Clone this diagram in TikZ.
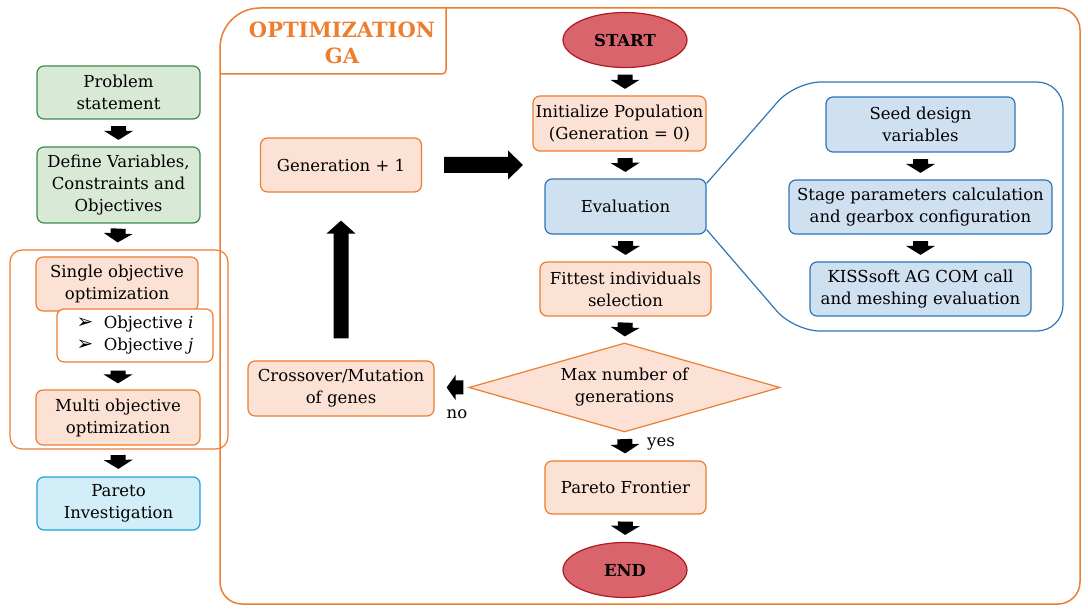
\documentclass[tikz,border=0pt]{standalone}
\usepackage{fontspec}
\setmainfont{DejaVu Serif}
\newfontfamily\symfont{DejaVu Sans}
\usetikzlibrary{shapes.geometric,calc}
\definecolor{grfill}{HTML}{D8EAD6}
\definecolor{grline}{HTML}{3C8A4B}
\definecolor{orfill}{HTML}{FBE2D5}
\definecolor{orline}{HTML}{ED7D31}
\definecolor{blfill}{HTML}{CFE0F1}
\definecolor{blline}{HTML}{2E75B6}
\definecolor{cyfill}{HTML}{D2EEF8}
\definecolor{cyline}{HTML}{1FA0D8}
\definecolor{rdfill}{HTML}{D9646C}
\definecolor{rdline}{HTML}{B0191E}
\tikzset{
  box/.style={rounded corners=7pt, draw, line width=1.2pt, align=center, inner sep=0pt},
  grbox/.style={box, draw=grline, fill=grfill},
  orbox/.style={box, draw=orline, fill=orfill},
  blbox/.style={box, draw=blline, fill=blfill},
  cybox/.style={box, draw=cyline, fill=cyfill},
  term/.style={ellipse, draw=rdline, fill=rdfill, line width=1.2pt, inner sep=0pt, minimum width=124pt, minimum height=55pt, font=\fontsize{16.5}{22}\selectfont\bfseries},
  decision/.style={diamond, draw=orline, fill=orfill, line width=1.2pt, aspect=3.5, inner sep=0pt, minimum width=311pt, minimum height=89pt, align=center},
  frame/.style={draw=orline, line width=1.5pt},
}
% block arrow from #1 to #2, shortened by #3 / #4, shaft half width #5, head half width #6, head length #7
\newcommand\blkarrow[7]{%
  \path ($(#1)!#3!(#2)$) coordinate (bA) ($(#2)!#4!(#1)$) coordinate (bB);
  \path ($(bB)!#7!(bA)$) coordinate (bH);
  \fill[black] (bB) -- ($(bH)!#6!90:(bA)$) -- ($(bH)!#5!90:(bA)$) -- ($(bA)!#5!-90:(bH)$)
     -- ($(bA)!#5!90:(bH)$) -- ($(bH)!#5!-90:(bA)$) -- ($(bH)!#6!-90:(bA)$) -- cycle;
}
\newcommand\smallarrow[4]{\blkarrow{#1}{#2}{#3}{#4}{7.5pt}{14.5pt}{9pt}}
\begin{document}
\begin{tikzpicture}[x=1pt,y=-1pt, font=\fontsize{16.5}{22}\selectfont]
\useasboundingbox (0,0) rectangle (1088,612);

% left column
\node[grbox, minimum width=163pt, minimum height=53pt] (prob) at (118.5,92.5) {Problem\\statement};
\node[grbox, minimum width=163pt, minimum height=76pt] (def) at (118.5,185) {Define Variables,\\Constraints and\\Objectives};
\draw[frame, line width=1.2pt, rounded corners=12pt] (10,250) rectangle (228,449);
\node[orbox, minimum width=162pt, minimum height=54pt] (single) at (117,284) {Single objective\\optimization};
\node[box, draw=orline, fill=white, minimum width=156pt, minimum height=53pt, align=left] (objs) at (135,335.5) {{\symfont\fontsize{20}{22}\selectfont ➢}\ \ Objective \textit{i}\\{\symfont\fontsize{20}{22}\selectfont ➢}\ \ Objective \textit{j}};
\node[orbox, minimum width=164pt, minimum height=55pt] (multi) at (118,417.5) {Multi objective\\optimization};
\node[cybox, minimum width=163pt, minimum height=53pt] (pinv) at (118.5,503.5) {Pareto\\Investigation};
\coordinate (oS) at (objs.south -| multi.north);

\smallarrow{prob.south}{def.north}{6.5pt}{6.5pt}
\smallarrow{def.south}{single.north}{5pt}{14pt}
\smallarrow{oS}{multi.north}{8pt}{6pt}
\smallarrow{multi.south}{pinv.north}{9.5pt}{7.5pt}

% main frame
\draw[frame] (600,8) [rounded corners=22pt] -- (1080,8) -- (1080,604) -- (220,604) -- (220,300);
\draw[frame] (220,300) [rounded corners=40pt] -- (220,8) -- (600,8);
\draw[frame, rounded corners=4pt] (220,74) -- (446,74) -- (446,8);
\node[text=orline, font=\fontsize{21}{26}\selectfont\bfseries, align=center] (title) at (342,43) {OPTIMIZATION\\GA};

% GA flow
\node[term] (start) at (625,40) {START};
\node[orbox, minimum width=173pt, minimum height=55pt] (init) at (619.5,123.5) {Initialize Population\\(Generation = 0)};
\node[blbox, minimum width=161pt, minimum height=55pt] (eval) at (625.5,206.5) {Evaluation};
\node[orbox, minimum width=171pt, minimum height=54pt] (fit) at (625.5,289) {Fittest individuals\\selection};
\node[decision] (dia) at (624.5,387.5) {Max number of\\generations};
\node[orbox, minimum width=161pt, minimum height=53pt] (pf) at (625.5,487.5) {Pareto Frontier};
\node[term] (end) at (625,570) {END};
\node[orbox, minimum width=161pt, minimum height=54pt] (gen) at (341,165) {Generation + 1};
\node[orbox, minimum width=186pt, minimum height=55pt] (cross) at (341,388.5) {Crossover/Mutation\\of genes};
\coordinate (iN) at (init.north -| start.south);
\coordinate (iS) at (init.south -| start.south);
\coordinate (cE) at (dia.west -| cross.east);

% evaluation detail
\draw[draw=blline, line width=1.2pt] ([yshift=-5pt]eval.north east) [rounded corners=26pt] -- (795,82) -- (1063,82) -- (1063,331) -- (794,331) -- ([yshift=5pt]eval.south east);
\node[blbox, minimum width=189pt, minimum height=55pt] (seed) at (920.5,124.5) {Seed design\\variables};
\node[blbox, minimum width=263pt, minimum height=54pt] (stage) at (920.5,207) {Stage parameters calculation\\and gearbox configuration};
\node[blbox, minimum width=221pt, minimum height=54pt] (kiss) at (920.5,289) {KISSsoft AG COM call\\and meshing evaluation};

\smallarrow{start.south}{iN}{6.5pt}{6.5pt}
\smallarrow{iS}{eval.north}{6.5pt}{6.5pt}
\smallarrow{eval.south}{fit.north}{6.5pt}{6.5pt}
\smallarrow{fit.south}{dia.north}{6pt}{6pt}
\smallarrow{dia.south}{pf.north}{6.5pt}{7pt}
\smallarrow{pf.south}{end.north}{7pt}{7pt}
\smallarrow{seed.south}{stage.north}{6.5pt}{6.5pt}
\smallarrow{stage.south}{kiss.north}{6.5pt}{6.5pt}

\blkarrow{dia.west}{cE}{5pt}{12pt}{7pt}{12.5pt}{9pt}
\node (no) at (457,414) {no};
\node (yes) at (661,444) {yes};
\coordinate (bigR) at (523,165);
\blkarrow{gen.east}{bigR}{22pt}{0pt}{8pt}{14.5pt}{15pt}
\blkarrow{cross.north}{gen.south}{22pt}{28pt}{7.5pt}{14.5pt}{13pt}
\end{tikzpicture}
\end{document}
